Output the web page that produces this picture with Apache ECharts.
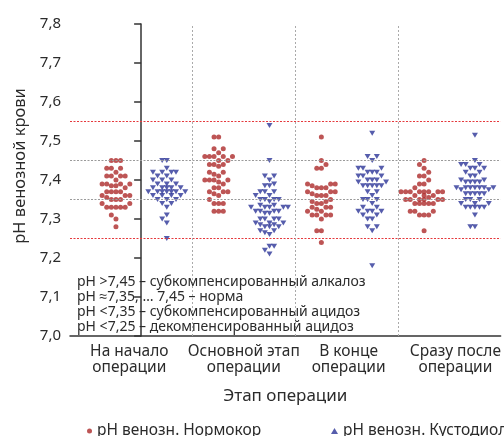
<!DOCTYPE html>
<html><head><meta charset="utf-8">
<script src="https://cdn.jsdelivr.net/npm/echarts@6/dist/echarts.min.js"></script>
<style>html,body{margin:0;padding:0;background:#fff}#c{width:504px;height:436px}</style>
</head><body><div id="c"></div>
<script>
const categories = ['На начало\nоперации', 'Основной этап\nоперации', 'В конце\nоперации', 'Сразу после\nоперации'];
const seriesNames = ['pH венозн. Нормокор', 'pH венозн. Кустодиол'];
const xAxisTitle = 'Этап операции';
const yAxisTitle = 'pH венозной крови';
const refRed = [7.55, 7.25];
const refGray = [7.45, 7.35];
const notes = [
  'pH >7,45 – субкомпенсированный алкалоз',
  'pH ≈7,35, … 7,45 – норма',
  'pH <7,35 – субкомпенсированный ацидоз',
  'pH <7,25 – декомпенсированный ацидоз'
];

// Нормокор
const normokor1 = [7.45,7.45,7.45,7.43,7.43,7.43,7.42,7.41,7.41,7.41,7.41,7.40,7.39,7.39,7.39,7.39,7.385,7.385,7.38,
  7.37,7.37,7.37,7.37,7.36,7.36,7.36,7.355,7.35,7.35,7.35,7.34,7.34,7.33,7.33,7.33,7.33,7.33,7.31,7.30,7.28];
const normokor2 = [7.51,7.51,7.48,7.48,7.47,7.46,7.46,7.46,7.46,7.46,7.45,7.45,7.44,7.44,7.44,7.435,7.42,7.42,7.415,7.41,
  7.40,7.40,7.40,7.40,7.395,7.39,7.38,7.38,7.37,7.37,7.37,7.365,7.36,7.35,7.34,7.34,7.34,7.32,7.32,7.32];
const normokor3 = [7.51,7.45,7.44,7.43,7.43,7.39,7.39,7.39,7.385,7.38,7.38,7.38,7.37,7.37,7.37,7.365,7.36,7.36,7.36,
  7.35,7.345,7.345,7.34,7.34,7.33,7.33,7.33,7.325,7.32,7.32,7.31,7.31,7.31,7.31,7.30,7.27,7.27,7.24];
const normokor4 = [7.45,7.44,7.43,7.42,7.41,7.41,7.40,7.39,7.39,7.38,7.37,7.37,7.37,7.37,7.37,7.37,7.37,7.37,
  7.36,7.36,7.36,7.355,7.35,7.35,7.35,7.35,7.35,7.35,7.34,7.34,7.34,7.34,7.34,7.32,7.32,7.32,7.31,7.31,7.31,7.27];
// Кустодиол
const custodiol1 = [7.45,7.45,7.43,7.42,7.42,7.42,7.42,7.41,7.41,7.40,7.40,7.40,7.39,7.39,7.39,7.38,7.38,7.38,7.38,7.38,
  7.37,7.37,7.37,7.37,7.37,7.37,7.37,7.36,7.36,7.36,7.36,7.35,7.35,7.35,7.34,7.34,7.33,7.31,7.30,7.29,7.25];
const custodiol2 = [7.54,7.45,7.41,7.41,7.40,7.39,7.385,7.385,7.37,7.37,7.37,7.36,7.36,7.35,7.35,7.35,7.35,7.345,
  7.335,7.335,7.33,7.33,7.33,7.33,7.33,7.32,7.32,7.32,7.32,7.315,7.315,7.30,7.30,7.30,7.30,7.29,7.29,7.29,
  7.285,7.285,7.28,7.28,7.28,7.27,7.27,7.265,7.26,7.23,7.23,7.22,7.21];
const custodiol3 = [7.52,7.46,7.46,7.45,7.43,7.43,7.43,7.42,7.42,7.42,7.41,7.41,7.41,7.40,7.40,7.40,7.395,7.395,
  7.385,7.385,7.385,7.385,7.385,7.37,7.37,7.36,7.35,7.35,7.35,7.34,7.33,7.33,7.32,7.32,7.32,7.32,7.31,7.31,
  7.30,7.30,7.28,7.28,7.27,7.18];
const custodiol4 = [7.515,7.45,7.44,7.44,7.44,7.43,7.43,7.43,7.42,7.42,7.41,7.41,7.40,7.40,7.395,7.395,7.395,7.395,
  7.38,7.38,7.38,7.38,7.38,7.38,7.38,7.375,7.375,7.365,7.365,7.365,7.365,7.365,7.35,7.35,7.35,7.34,7.34,7.34,
  7.33,7.33,7.33,7.33,7.33,7.31,7.28,7.28];

const normokor = [normokor1, normokor2, normokor3, normokor4];
const custodiol = [custodiol1, custodiol2, custodiol3, custodiol4];

// beeswarm layout (column index computed from the values)
const COLW = 4.67 / 104, HARD = 0.0085, SOFT = 0.0115, PEN = 3;
function swarm(values, cat, side) {
  const placed = [], out = [];
  const sorted = values.slice().sort((a, b) => a - b);
  for (const v of sorted) {
    let best = null;
    for (let i = 0; i < 60; i++) {
      const c = i === 0 ? 0 : (i % 2 === 1 ? -Math.ceil(i / 2) : Math.ceil(i / 2));
      const same = placed.filter(p => p.col === c);
      if (same.some(p => Math.abs(p.v - v) < HARD)) continue;
      const soft = same.some(p => Math.abs(p.v - v) < SOFT);
      const cost = Math.abs(c) + (soft ? PEN : 0);
      if (!best || cost < best.cost || (cost === best.cost && best.soft && !soft)) best = { c, cost, soft };
    }
    placed.push({ col: best.c, v });
    out.push([cat + side + best.c * COLW, v]);
  }
  return out;
}
const redData = [], blueData = [];
normokor.forEach((vals, i) => redData.push(...swarm(vals, i, -0.245)));
custodiol.forEach((vals, i) => blueData.push(...swarm(vals, i, 0.25)));

const FONT = '"Noto Sans", sans-serif';
const TXT = '#2b2b2b';
const legendText = { fontSize: 15.5, color: TXT, fontFamily: FONT };
const chart = echarts.init(document.getElementById('c'), null, { renderer: 'canvas' });
chart.setOption({
  animation: false,
  textStyle: { fontFamily: FONT },
  grid: { left: 70, right: -2, top: 24, bottom: 100, containLabel: false },
  xAxis: {
    type: 'value', min: -0.5 - 20 / 104, max: 3.5,
    axisLine: { show: true, onZero: false, lineStyle: { color: '#333', width: 1.5 } },
    axisTick: { show: false }, splitLine: { show: false },
    axisLabel: {
      customValues: [-0.115, 1.0, 2.02, 3.06],
      formatter: v => categories[Math.round(v)],
      color: TXT, fontSize: 15.5, lineHeight: 16, margin: 8, fontFamily: FONT
    },
    name: xAxisTitle, nameLocation: 'middle', nameGap: 52,
    nameTextStyle: { fontSize: 17, color: TXT, fontFamily: FONT }
  },
  yAxis: {
    type: 'value', min: 7.0, max: 7.8, interval: 0.1,
    axisLine: { show: true, lineStyle: { color: '#333', width: 1.5 } },
    axisTick: { show: true, length: 7, lineStyle: { color: '#333', width: 1.5 } },
    splitLine: { show: false },
    axisLabel: { formatter: v => v.toFixed(1).replace('.', ','), fontSize: 15, color: TXT, margin: 9, fontFamily: FONT },
    name: yAxisTitle, nameLocation: 'middle', nameGap: 40,
    nameTextStyle: { fontSize: 16.5, color: TXT, fontFamily: FONT, padding: [0, 0, 0, 28] }
  },
  legend: [
    { left: 82, top: 418, itemWidth: 5, itemHeight: 5, textStyle: legendText,
      data: [{ name: seriesNames[0], icon: 'circle' }] },
    { left: 326, top: 418, itemWidth: 7, itemHeight: 6, textStyle: legendText,
      data: [{ name: seriesNames[1] }] }
  ],
  graphic: [{
    type: 'text', left: 77, top: 275, z: 10,
    style: { text: notes.join('\n'), fontSize: 14, lineHeight: 15, fontFamily: FONT, fill: TXT }
  }],
  series: [
    {
      type: 'scatter', data: [], silent: true, z: 1,
      markLine: {
        silent: true, symbol: ['none', 'none'], label: { show: false }, animation: false,
        data: [
          ...refRed.map(v => ({ yAxis: v, lineStyle: { color: '#e5393d', type: [2, 1.5], width: 1 } })),
          ...refGray.map(v => ({ yAxis: v, lineStyle: { color: '#9a9a9a', type: [2, 1.5], width: 1 } })),
          ...[0.5, 1.5, 2.5].map(x => ({ xAxis: x, lineStyle: { color: '#aaaaaa', type: [2, 2], width: 1 } }))
        ]
      }
    },
    {
      name: seriesNames[0], type: 'scatter', symbol: 'circle', symbolSize: 5, z: 3,
      itemStyle: { color: '#ad2b2b' }, data: redData
    },
    {
      name: seriesNames[1], type: 'scatter', symbol: 'triangle', symbolRotate: 180, symbolSize: [6, 5], z: 3,
      itemStyle: { color: '#2c3597' }, data: blueData
    }
  ]
});
</script></body></html>
